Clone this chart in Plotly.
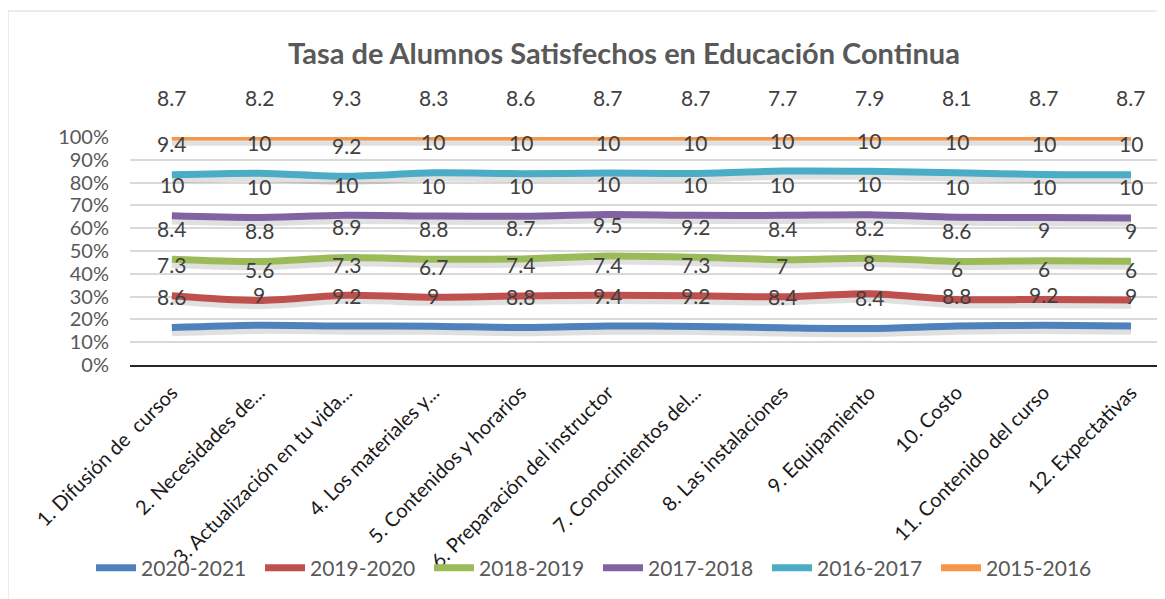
import plotly.graph_objects as go
import numpy as np

categories = [
    "1. Difusión de\u00a0\u00a0cursos",
    "2. Necesidades de...",
    "3. Actualización en tu vida...",
    "4. Los materiales y...",
    "5. Contenidos y horarios",
    "6. Preparación del instructor",
    "7. Conocimientos del...",
    "8. Las instalaciones",
    "9. Equipamiento",
    "10. Costo",
    "11. Contenido del curso",
    "12. Expectativas",
]

series_names = ["2020-2021", "2019-2020", "2018-2019", "2017-2018", "2016-2017", "2015-2016"]

v_2020_2021 = [8.6, 9, 9.2, 9, 8.8, 9.4, 9.2, 8.4, 8.4, 8.8, 9.2, 9]
v_2019_2020 = [7.3, 5.6, 7.3, 6.7, 7.4, 7.4, 7.3, 7, 8, 6, 6, 6]
v_2018_2019 = [8.4, 8.8, 8.9, 8.8, 8.7, 9.5, 9.2, 8.4, 8.2, 8.6, 9, 9]
v_2017_2018 = [10, 10, 10, 10, 10, 10, 10, 10, 10, 10, 10, 10]
v_2016_2017 = [9.4, 10, 9.2, 10, 10, 10, 10, 10, 10, 10, 10, 10]
v_2015_2016 = [8.7, 8.2, 9.3, 8.3, 8.6, 8.7, 8.7, 7.7, 7.9, 8.1, 8.7, 8.7]

y_tick_vals = [0, 10, 20, 30, 40, 50, 60, 70, 80, 90, 100]
y_tick_text = ["0%", "10%", "20%", "30%", "40%", "50%", "60%", "70%", "80%", "90%", "100%"]

series_values = [v_2020_2021, v_2019_2020, v_2018_2019, v_2017_2018, v_2016_2017, v_2015_2016]
colors = ["#4f81bd", "#c0504d", "#9bbb59", "#8064a2", "#4bacc6", "#f79646"]

font_family = "Lato, 'Open Sans', sans-serif"

# page body has an 8px margin: convert screen px to figure px
OFF = 8
PL, PR, PT, PB = 130 - OFF, 1165 - OFF, 137 - OFF, 365 - OFF
W, H = 1165, 599
PW, PH = PR - PL, PB - PT


def px(sx):
    return (sx - OFF - PL) / PW


def py(sy):
    return (PB - (sy - OFF)) / PH


vals = np.array(series_values, dtype=float)
cum = np.cumsum(vals, axis=0)
pct = cum / cum[-1] * 100.0
x = list(range(len(categories)))

fig = go.Figure()

for k in range(len(series_names)):
    fig.add_trace(go.Scatter(
        x=x, y=pct[k] - 1.6, mode="lines",
        line=dict(color="rgba(60,60,60,0.16)", width=10, shape="spline", smoothing=0.8),
        hoverinfo="skip", showlegend=False,
    ))

for k, name in enumerate(series_names):
    fig.add_trace(go.Scatter(
        x=x, y=pct[k], mode="lines", name=name,
        line=dict(color=colors[k], width=7, shape="spline", smoothing=0.8),
    ))

annotations = []
for k in range(len(series_names)):
    shift = 40 if k == len(series_names) - 1 else 31
    for i in x:
        v = series_values[k][i]
        annotations.append(dict(
            x=i, y=pct[k][i], xref="x", yref="y", text=f"{v:g}",
            showarrow=False, yshift=shift,
            font=dict(size=21, color="#404040", family=font_family),
        ))

annotations.append(dict(
    x=px(624), y=py(52), xref="paper", yref="paper",
    text="<b>Tasa de Alumnos Satisfechos en Educación Continua</b>", showarrow=False,
    xanchor="center", yanchor="middle",
    font=dict(size=29, color="#595959", family=font_family),
))

fig.update_layout(
    width=W, height=H,
    margin=dict(l=PL, r=W - PR, t=PT, b=H - PB),
    paper_bgcolor="white", plot_bgcolor="white",
    font=dict(family=font_family),
    annotations=annotations,
    showlegend=True,
    legend=dict(
        orientation="h", x=px(598), xanchor="center",
        y=py(568), yanchor="middle",
        font=dict(size=21, color="#595959", family=font_family),
        bgcolor="rgba(0,0,0,0)",
        itemwidth=40, tracegroupgap=0, entrywidth=114,
    ),
    shapes=[dict(
        type="rect", xref="paper", yref="paper",
        x0=px(8), x1=px(1180), y0=py(615), y1=py(11),
        line=dict(color="#d9d9d9", width=1), fillcolor="rgba(0,0,0,0)", layer="below",
    )],
)

fig.update_xaxes(
    range=[-0.48, 11.39], tickmode="array", tickvals=x, ticktext=categories,
    tickangle=-45, showgrid=False, zeroline=False,
    showline=True, linecolor="#262626", linewidth=2, ticklabelstandoff=6,
    tickfont=dict(size=20, color="#1a1a1a", family=font_family), automargin=False,
)
fig.update_yaxes(
    range=[0, 100], tickmode="array", tickvals=y_tick_vals, ticktext=y_tick_text,
    showgrid=True, gridcolor="#d9d9d9", gridwidth=1.5,
    zeroline=False, showline=False, ticklabelstandoff=20,
    tickfont=dict(size=20, color="#595959", family=font_family), automargin=False,
)

fig.write_html("out.html")
